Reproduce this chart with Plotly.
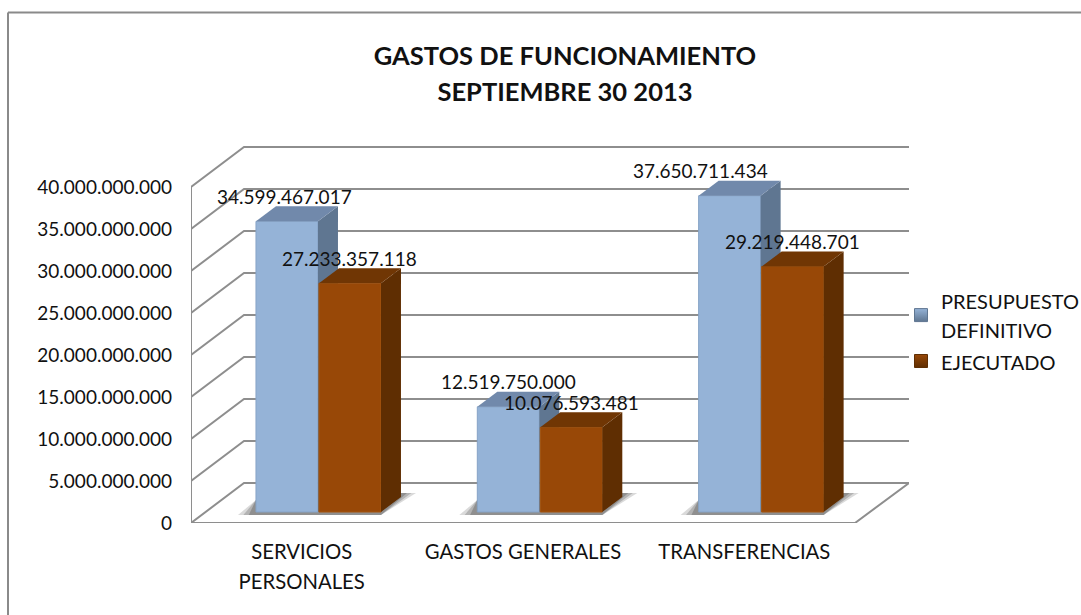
import plotly.graph_objects as go

categories = ["SERVICIOS<br>PERSONALES", "GASTOS GENERALES", "TRANSFERENCIAS"]
presupuesto = [34599467017, 12519750000, 37650711434]
ejecutado = [27233357118, 10076593481, 29219448701]
series_names = ["PRESUPUESTO<br>DEFINITIVO", "EJECUTADO"]
y_ticks = [0, 5e9, 10e9, 15e9, 20e9, 25e9, 30e9, 35e9, 40e9]
title_lines = ["GASTOS DE FUNCIONAMIENTO", "SEPTIEMBRE 30 2013"]

FONT = "Lato"
TXT = "#111111"
GRID = "#8e8e8e"
FS = 19
FS_CAT = 20.3
FS_LEG = 20

# Geometry (pixel frame of the plot area)
L, R, T, B = 191, 909, 146, 523
PX_X = (855 - 191) / 3            # px per category
PX_Y = 8.4 / 1e9                  # px per value unit
X0, X1 = -0.5, -0.5 + (R - L) / PX_X
Y1 = (B - T) / PX_Y
dxw, dyw = 53 / PX_X, 40 / PX_Y   # depth of the walls
dxb, dyb = 20 / PX_X, 15 / PX_Y   # depth of the bars
base = 11 / PX_Y                  # bars stand on the middle of the floor
bar_w = 62 / PX_X
off_a = -45.7 / PX_X
off_b = 17.3 / PX_X

BLUE = dict(front="#95B3D7", top="#7189AB", side="#5F7691", edge="#86A3C6")
ORNG = dict(front="#984807", top="#703604", side="#5F2E02", edge="#A5550F")

fig = go.Figure()


def line(xs, ys, width=2, color=GRID):
    fig.add_trace(go.Scatter(x=xs, y=ys, mode="lines", line=dict(color=color, width=width),
                             showlegend=False, hoverinfo="skip", cliponaxis=False))


def poly(xs, ys, color, xa="x", ya="y"):
    fig.add_trace(go.Scatter(x=xs + xs[:1], y=ys + ys[:1], mode="lines", fill="toself", fillcolor=color,
                             line=dict(width=0, color=color), showlegend=False, hoverinfo="skip",
                             cliponaxis=False, xaxis=xa, yaxis=ya))


# Walls and floor
for v in y_ticks:
    line([X0, X0 + dxw, X1], [v, v + dyw, v + dyw])
line([X0, X0], [0, y_ticks[-1]])
line([X0, X0 + 3, X1, X0 + dxw], [0, 0, dyw, dyw])

# Floor shadows
for i in range(len(categories)):
    xa = i + off_a
    xb = i + off_b + bar_w
    for k, col in [(1.0, "rgba(150,150,150,0.35)"), (0.7, "rgba(120,120,120,0.4)"), (0.4, "rgba(100,100,100,0.45)")]:
        poly([xa - 18 / PX_X * k, xa, xb + dxb, xb + dxb + 15 / PX_X * k, xb],
             [base - 3 / PX_Y, base + 12 / PX_Y, base + dyb + 4 / PX_Y, base + dyb + 4 / PX_Y, base - 3 / PX_Y],
             col)

# Bars: each series on its own overlaid axes so that it paints over the previous one
for values, off, c, name, ax in [(presupuesto, off_a, BLUE, series_names[0], "2"),
                                 (ejecutado, off_b, ORNG, series_names[1], "3")]:
    fig.add_trace(go.Bar(x=list(range(len(values))), y=values, base=base, width=bar_w, offset=off,
                         marker=dict(color=c["front"], line=dict(color=c["edge"], width=1)),
                         showlegend=False, hoverinfo="skip", xaxis="x" + ax, yaxis="y" + ax))
    for i, v in enumerate(values):
        xa, xb = i + off, i + off + bar_w
        top = base + v
        poly([xb, xb + dxb, xb + dxb, xb], [base, base + dyb, top + dyb, top], c["side"], "x" + ax, "y" + ax)
        poly([xa, xb, xb + dxb, xa + dxb], [top, top, top + dyb, top + dyb], c["top"], "x" + ax, "y" + ax)
    fig.add_trace(go.Scatter(x=[None], y=[None], mode="markers", name=f'<span style="font-size:{FS_LEG}px">{name}</span>',
                             marker=dict(symbol="square", size=13, color=c["front"],
                                         gradient=dict(type="vertical", color=c["side"]),
                                         line=dict(color=c["side"], width=1))))

# Data labels
label_shift_a = [-2, 0, -29]
label_shift_b = [0, 0, 0]
annotations = []
for values, off, shifts in [(presupuesto, off_a, label_shift_a), (ejecutado, off_b, label_shift_b)]:
    for i, v in enumerate(values):
        annotations.append(dict(x=i + off + bar_w / 2, y=base + v, xref="x", yref="y", yshift=25, xshift=shifts[i],
                                text=f"{v:,}".replace(",", "."), showarrow=False,
                                font=dict(family=FONT, size=FS, color=TXT)))

overlay_x = dict(range=[X0, X1], visible=False, overlaying="x", anchor="y")
overlay_y = dict(range=[0, Y1], visible=False, overlaying="y", anchor="x")

fig.update_layout(
    width=1081, height=615, autosize=False,
    paper_bgcolor="white", plot_bgcolor="white",
    margin=dict(l=L, r=1081 - R, t=T, b=615 - B, pad=0, autoexpand=False),
    barmode="overlay",
    title=dict(text="<br>".join(f'<span style="font-size:25.5px">{t}</span>' for t in title_lines),
               x=565 / 1081, xanchor="center", y=1 - 65 / 615, yanchor="top",
               font=dict(family=FONT, size=28, color=TXT, weight="bold")),
    xaxis=dict(range=[X0, X1], tickmode="array", tickvals=list(range(len(categories))),
               ticktext=[f'<span style="font-size:{FS_CAT}px">{c}</span>' for c in categories],
               tickfont=dict(family=FONT, size=23, color=TXT), showgrid=False, zeroline=False,
               showline=False, ticks="", ticklabelstandoff=12),
    yaxis=dict(range=[0, Y1], tickmode="array", tickvals=y_ticks,
               ticktext=[f"{int(v):,}".replace(",", ".") for v in y_ticks],
               tickfont=dict(family=FONT, size=FS, color=TXT), showgrid=False, zeroline=False,
               showline=False, ticks="", ticklabelstandoff=18),
    xaxis2=overlay_x, yaxis2=overlay_y, xaxis3=overlay_x, yaxis3=overlay_y,
    legend=dict(x=(901 - L) / (R - L), xanchor="left", y=(B - 280) / (B - T), yanchor="top",
                font=dict(family=FONT, size=22, color=TXT), bgcolor="rgba(0,0,0,0)", itemwidth=30),
    annotations=annotations,
    shapes=[dict(type="line", xref="paper", yref="paper", x0=(8 - L) / (R - L), x1=1.5, y0=(B - 12.5) / (B - T), y1=(B - 12.5) / (B - T),
                 line=dict(color="#8a8a8a", width=2)),
            dict(type="line", xref="paper", yref="paper", x0=(8 - L) / (R - L), x1=(8 - L) / (R - L), y0=(B - 12.5) / (B - T), y1=-2,
                 line=dict(color="#8a8a8a", width=2))],
)

fig.write_html("out.html", post_script="document.body.style.margin='0';", config={"displayModeBar": False})
